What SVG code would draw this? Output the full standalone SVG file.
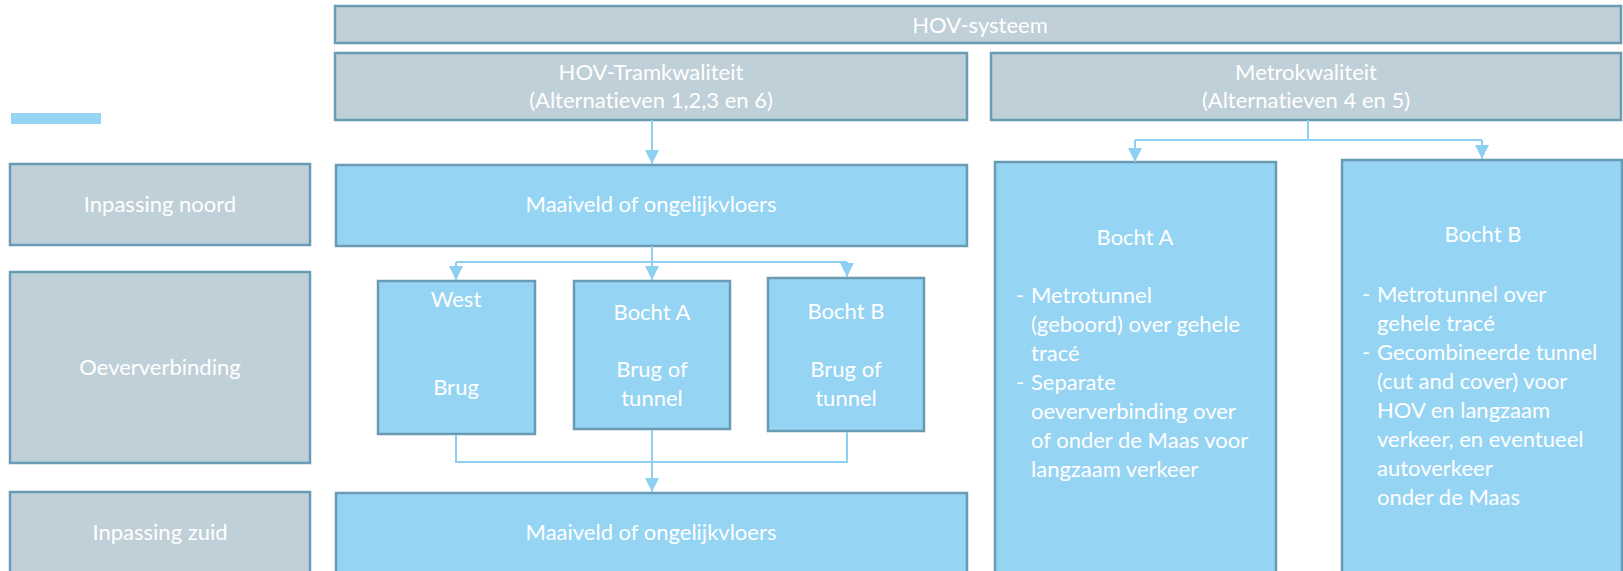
<svg xmlns="http://www.w3.org/2000/svg" width="1623" height="571" viewBox="0 0 1623 571">
<defs>
<style>
.g{fill:#BFD0D8;stroke:#6A9BB5;stroke-width:2.5}
.b{fill:#96D4F4;stroke:#6A9BB5;stroke-width:2.5}
text{font-family:Lato,"Liberation Sans",sans-serif;font-size:22px;fill:#FFFFFF;font-variant-ligatures:none;font-feature-settings:"liga" 0,"clig" 0}
.c{text-anchor:middle}
.ln{fill:none;stroke:#8DCFF0;stroke-width:2}
</style>
<marker id="ar" viewBox="0 0 14 16" refX="14" refY="7" markerWidth="14" markerHeight="16" markerUnits="userSpaceOnUse" orient="auto">
<path d="M0,0 L14,7 L0,14 Z" fill="#8DCFF0"/>
</marker>
</defs>
<rect x="0" y="0" width="1623" height="571" fill="#FFFFFF"/>
<rect id="legend" x="11" y="113" width="90" height="11" fill="#96D4F4"/>
<g id="hov-systeem"><rect class="g" x="335" y="6" width="1286" height="37"/><text class="c" x="980" y="33">HOV-systeem</text></g>
<g id="tram"><rect class="g" x="335" y="53" width="632" height="67"/><text class="c" x="651" y="80">HOV-Tramkwaliteit</text><text class="c" x="651" y="108">(Alternatieven 1,2,3 en 6)</text></g>
<g id="metro"><rect class="g" x="991" y="53" width="630" height="67"/><text class="c" x="1306" y="80">Metrokwaliteit</text><text class="c" x="1306" y="108">(Alternatieven 4 en 5)</text></g>
<g id="inpassing-noord"><rect class="g" x="10" y="164" width="300" height="81"/><text class="c" x="160" y="212">Inpassing noord</text></g>
<g id="oeververbinding"><rect class="g" x="10" y="272" width="300" height="191"/><text class="c" x="160" y="375">Oeververbinding</text></g>
<g id="inpassing-zuid"><rect class="g" x="10" y="492" width="300" height="90"/><text class="c" x="160" y="540">Inpassing zuid</text></g>
<g id="maaiveld-noord"><rect class="b" x="336" y="165" width="631" height="81"/><text class="c" x="651" y="212">Maaiveld of ongelijkvloers</text></g>
<g id="west"><rect class="b" x="378" y="281" width="157" height="153"/><text class="c" x="456" y="307">West</text><text class="c" x="456" y="395">Brug</text></g>
<g id="tram-bocht-a"><rect class="b" x="574" y="281" width="156" height="148"/><text class="c" x="652" y="320">Bocht A</text><text class="c" x="652" y="377">Brug of</text><text class="c" x="652" y="406">tunnel</text></g>
<g id="tram-bocht-b"><rect class="b" x="768" y="278" width="156" height="153"/><text class="c" x="846" y="319">Bocht B</text><text class="c" x="846" y="377">Brug of</text><text class="c" x="846" y="406">tunnel</text></g>
<g id="maaiveld-zuid"><rect class="b" x="336" y="493" width="631" height="90"/><text class="c" x="651" y="540">Maaiveld of ongelijkvloers</text></g>
<g id="metro-bocht-a"><rect class="b" x="995" y="162" width="281" height="420"/><text class="c" x="1135" y="245">Bocht A</text>
<text x="1016" y="303">-</text><text x="1031" y="303">Metrotunnel</text><text x="1031" y="332">(geboord) over gehele</text><text x="1031" y="361">tracé</text>
<text x="1016" y="390">-</text><text x="1031" y="390">Separate</text><text x="1031" y="419">oeververbinding over</text><text x="1031" y="448">of onder de Maas voor</text><text x="1031" y="477">langzaam verkeer</text></g>
<g id="metro-bocht-b"><rect class="b" x="1342" y="160" width="280" height="422"/><text class="c" x="1483" y="242">Bocht B</text>
<text x="1362" y="302">-</text><text x="1377" y="302">Metrotunnel over</text><text x="1377" y="331">gehele tracé</text>
<text x="1362" y="360">-</text><text x="1377" y="360">Gecombineerde tunnel</text><text x="1377" y="389">(cut and cover) voor</text><text x="1377" y="418">HOV en langzaam</text><text x="1377" y="447">verkeer, en eventueel</text><text x="1377" y="476">autoverkeer</text><text x="1377" y="505">onder de Maas</text></g>
<g id="connectors">
<path class="ln" d="M652,120 V164" marker-end="url(#ar)"/>
<path class="ln" d="M1308,120 V140 M1135,140 H1482"/>
<path class="ln" d="M1135,140 V162" marker-end="url(#ar)"/>
<path class="ln" d="M1482,140 V159" marker-end="url(#ar)"/>
<path class="ln" d="M652,246 V262 M456,262 H847"/>
<path class="ln" d="M456,262 V280" marker-end="url(#ar)"/>
<path class="ln" d="M652,262 V280" marker-end="url(#ar)"/>
<path class="ln" d="M847,262 V277" marker-end="url(#ar)"/>
<path class="ln" d="M456,435 V462 H847 V432"/>
<path class="ln" d="M652,430 V492" marker-end="url(#ar)"/>
</g>
</svg>
